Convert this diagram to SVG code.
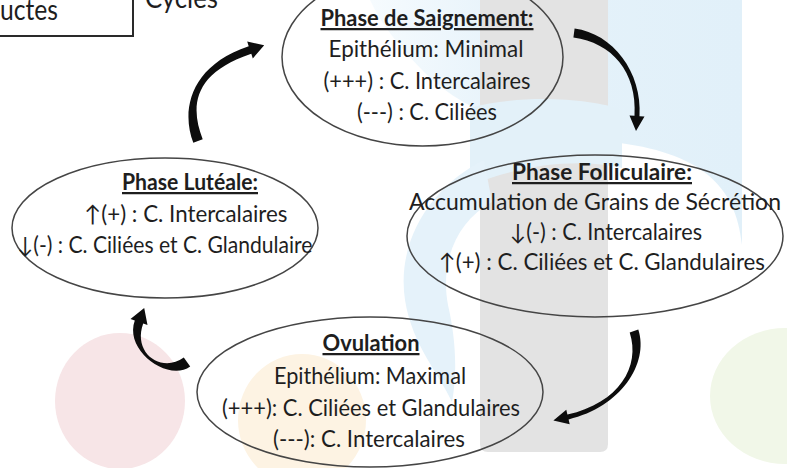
<svg xmlns="http://www.w3.org/2000/svg" width="787" height="468" viewBox="0 0 787 468">
<style>
.t{font-family:Lato,"Noto Sans","DejaVu Sans",sans-serif;font-size:22.5px;fill:#1e1e1e;text-anchor:middle}
.h{font-weight:bold;text-decoration:underline}
.n{fill:none;stroke:#454545;stroke-width:1.5}
.a{fill:#0d0d0d}
</style>
<defs>
<linearGradient id="bg1" x1="0" y1="0" x2="1" y2="0">
<stop offset="0" stop-color="#f6fbfe"/><stop offset="0.4" stop-color="#e5f2fa"/><stop offset="1" stop-color="#e1f0f9"/>
</linearGradient>
</defs>
<rect width="787" height="468" fill="#ffffff"/>
<g id="background">
<ellipse cx="120" cy="401" rx="65" ry="68" fill="#f7e5e7"/>
<ellipse cx="302" cy="420" rx="64" ry="66" fill="#fdf3e3"/>
<ellipse cx="785" cy="396" rx="75" ry="68" fill="#f1f7e8"/>
<path d="M370,0 L742,0 L742,245 C736,185 700,152 612,142 C540,136 470,118 424,72 C398,46 380,22 370,0 Z" fill="url(#bg1)"/>
<path d="M480,-10 L608,-10 L608,444 Q608,452 600,452 L488,452 Q480,452 480,444 Z" fill="#e3e3e3"/>
<path d="M470,108 C520,94 590,98 622,110 L622,168 C580,158 520,164 470,186 Z" fill="#e3f1f9"/>
<path d="M484,160 C432,186 396,240 405,300 C412,345 440,375 452,402 C458,370 455,335 448,305 C440,262 456,222 492,202 Z" fill="#e5f2fa"/>
</g>
<g id="header">
<rect x="-5" y="-30" width="138" height="66" fill="#ffffff" stroke="#2a2a2a" stroke-width="2"/>
<text class="t" style="text-anchor:end;font-size:29px" x="58" y="20" textLength="58" lengthAdjust="spacingAndGlyphs">uctes</text>
<text class="t" style="text-anchor:start;font-size:28px" x="145" y="8" textLength="73" lengthAdjust="spacingAndGlyphs">Cycles</text>
</g>
<g id="connectors">
<path class="a" d="M193.3,142.8 C181.3,111.8 188.7,66.2 248.7,46.2 L247.2,41.5 L264.2,45.3 L252.8,58.5 L251.3,53.8 C191.3,73.8 190.7,108.2 202.7,139.2 Z"/>
<path class="a" d="M574.6,28.5 C612.6,33.5 642.5,72.2 639.5,116.2 L644.5,116.5 L636,131 L629.5,115.5 L634.5,115.8 C637.5,71.8 611.4,42.5 573.4,37.5 Z"/>
<path class="a" d="M638.3,329.6 C649.3,363.6 620.6,407.4 568.6,419.4 L569.7,424.3 L553.4,420.4 L566.3,409.7 L567.4,414.6 C619.4,402.6 640.7,366.4 629.7,332.4 Z"/>
<path class="a" d="M190.2,366.4 C168.2,382.4 123.8,350.5 134.8,320.5 L130.5,318.9 L144.2,307.9 L147.5,325.1 L143.2,323.5 C132.2,353.5 161.8,373.6 183.8,357.6 Z"/>
</g>
<g id="saignement">
<ellipse class="n" cx="422.5" cy="57" rx="140.5" ry="89"/>
<text class="t h" x="427" y="26" textLength="213" lengthAdjust="spacingAndGlyphs">Phase de Saignement:</text>
<text class="t" x="426" y="57" textLength="195" lengthAdjust="spacingAndGlyphs">Epithélium: Minimal</text>
<text class="t" x="427" y="89" textLength="207" lengthAdjust="spacingAndGlyphs">(+++) : C. Intercalaires</text>
<text class="t" x="427" y="120" textLength="140" lengthAdjust="spacingAndGlyphs">(---) : C. Ciliées</text>
</g>
<g id="folliculaire">
<ellipse class="n" cx="595" cy="236" rx="188" ry="81"/>
<text class="t h" x="602" y="180" textLength="180" lengthAdjust="spacingAndGlyphs">Phase Folliculaire:</text>
<text class="t" x="595" y="210" textLength="372" lengthAdjust="spacingAndGlyphs">Accumulation de Grains de Sécrétion</text>
<text class="t" x="606" y="240" textLength="192" lengthAdjust="spacingAndGlyphs">↓(-) : C. Intercalaires</text>
<text class="t" x="602" y="270" textLength="326" lengthAdjust="spacingAndGlyphs">↑(+) : C. Ciliées et C. Glandulaires</text>
</g>
<g id="luteale">
<ellipse class="n" cx="165" cy="228" rx="153" ry="70"/>
<text class="t h" x="190" y="190" textLength="136" lengthAdjust="spacingAndGlyphs">Phase Lutéale:</text>
<text class="t" x="186" y="222" textLength="203" lengthAdjust="spacingAndGlyphs">↑(+) : C. Intercalaires</text>
<text class="t" x="165" y="253" textLength="295" lengthAdjust="spacingAndGlyphs">↓(-) : C. Ciliées et C. Glandulaire</text>
</g>
<g id="ovulation">
<ellipse class="n" cx="370" cy="392" rx="173" ry="75"/>
<text class="t h" x="371" y="351" textLength="97" lengthAdjust="spacingAndGlyphs">Ovulation</text>
<text class="t" x="370" y="384" textLength="192" lengthAdjust="spacingAndGlyphs">Epithélium: Maximal</text>
<text class="t" x="371" y="416" textLength="298" lengthAdjust="spacingAndGlyphs">(+++): C. Ciliées et Glandulaires</text>
<text class="t" x="369" y="447" textLength="192" lengthAdjust="spacingAndGlyphs">(---): C. Intercalaires</text>
</g>
</svg>
